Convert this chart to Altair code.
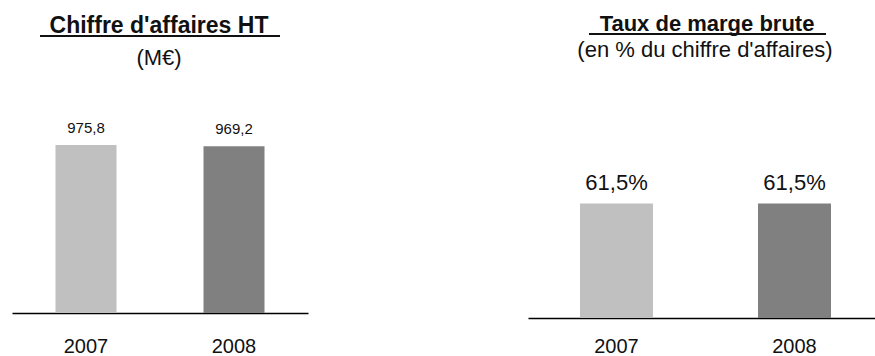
import altair as alt
import pandas as pd

# Data
years = ["2007", "2008"]
ca_values = [975.8, 969.2]
ca_labels = ["975,8", "969,2"]
marge_values = [61.5, 61.5]
marge_labels = ["61,5%", "61,5%"]
bar_colors = ["#c0c0c0", "#808080"]

FONT = "Liberation Sans"
TXT = "#111111"

ca_df = pd.DataFrame({"annee": years, "valeur": ca_values, "label": ca_labels})
marge_df = pd.DataFrame({"annee": years, "valeur": marge_values, "label": marge_labels})

color = alt.Color("annee:N", scale=alt.Scale(domain=years, range=bar_colors), legend=None)


def x_axis(pad):
    return alt.Axis(
        title=None, labelAngle=0, ticks=False, tickSize=0, domainColor="#000000",
        domainWidth=1.5, labelFont=FONT, labelFontSize=20, labelColor=TXT,
        labelPadding=pad, labelBaseline="middle", grid=False,
    )


def header(title, subtitle, cx, sx, title_y, sub_y, ul_x1, ul_x2, ul_y, tsize, ssize):
    t = alt.Chart(pd.DataFrame({"t": [title]})).mark_text(
        font=FONT, fontSize=tsize, fontWeight="bold", color=TXT, baseline="alphabetic"
    ).encode(text="t:N", x=alt.value(cx), y=alt.value(title_y))
    s = alt.Chart(pd.DataFrame({"t": [subtitle]})).mark_text(
        font=FONT, fontSize=ssize, color=TXT, baseline="alphabetic"
    ).encode(text="t:N", x=alt.value(sx), y=alt.value(sub_y))
    ul = alt.Chart(pd.DataFrame({"t": [title]})).mark_rule(color=TXT, strokeWidth=1.8).encode(
        x=alt.value(ul_x1), x2=alt.value(ul_x2), y=alt.value(ul_y)
    )
    return [t, s, ul]


# Left panel: revenue
ca_x = alt.X("annee:N", scale=alt.Scale(domain=years, paddingInner=0, paddingOuter=0), axis=x_axis(33))
ca_y = alt.Y("valeur:Q", scale=alt.Scale(domain=[0, 1818], nice=False), axis=None)
ca_base = alt.Chart(ca_df).encode(x=ca_x, y=ca_y)
ca_bars = ca_base.mark_bar(size=61).encode(color=color)
ca_text = ca_base.mark_text(font=FONT, fontSize=15, color=TXT, dy=-17, baseline="middle").encode(text="label:N")
left = alt.layer(
    ca_bars, ca_text,
    *header("Chiffre d'affaires HT", "(M€)", 147, 147, 33, 65, 28, 268, 36, 23, 22),
).properties(width=296, height=313)

# Right panel: gross margin rate
mg_x = alt.X(
    "annee:N",
    scale=alt.Scale(domain=years, paddingInner=0.5, paddingOuter=0.2247, align=0.55),
    axis=x_axis(28),
)
mg_y = alt.Y("valeur:Q", scale=alt.Scale(domain=[0, 170.8], nice=False), axis=None)
mg_base = alt.Chart(marge_df).encode(x=mg_x, y=mg_y)
mg_bars = mg_base.mark_bar(size=73).encode(color=color)
mg_text = mg_base.mark_text(font=FONT, fontSize=22, color=TXT, dy=-20.5, baseline="middle").encode(text="label:N")
right = alt.layer(
    mg_bars, mg_text,
    *header("Taux de marge brute", "(en % du chiffre d'affaires)", 179, 177, 31, 57, 61, 298, 34, 22, 22),
).properties(width=347, height=318)

chart = (
    alt.hconcat(left, right, spacing=220)
    .properties(padding={"left": 12, "top": 0, "right": 0, "bottom": 0}, background="white")
    .configure_view(stroke=None)
)

chart.save("out.html", embed_options={"renderer": "svg", "actions": False})
